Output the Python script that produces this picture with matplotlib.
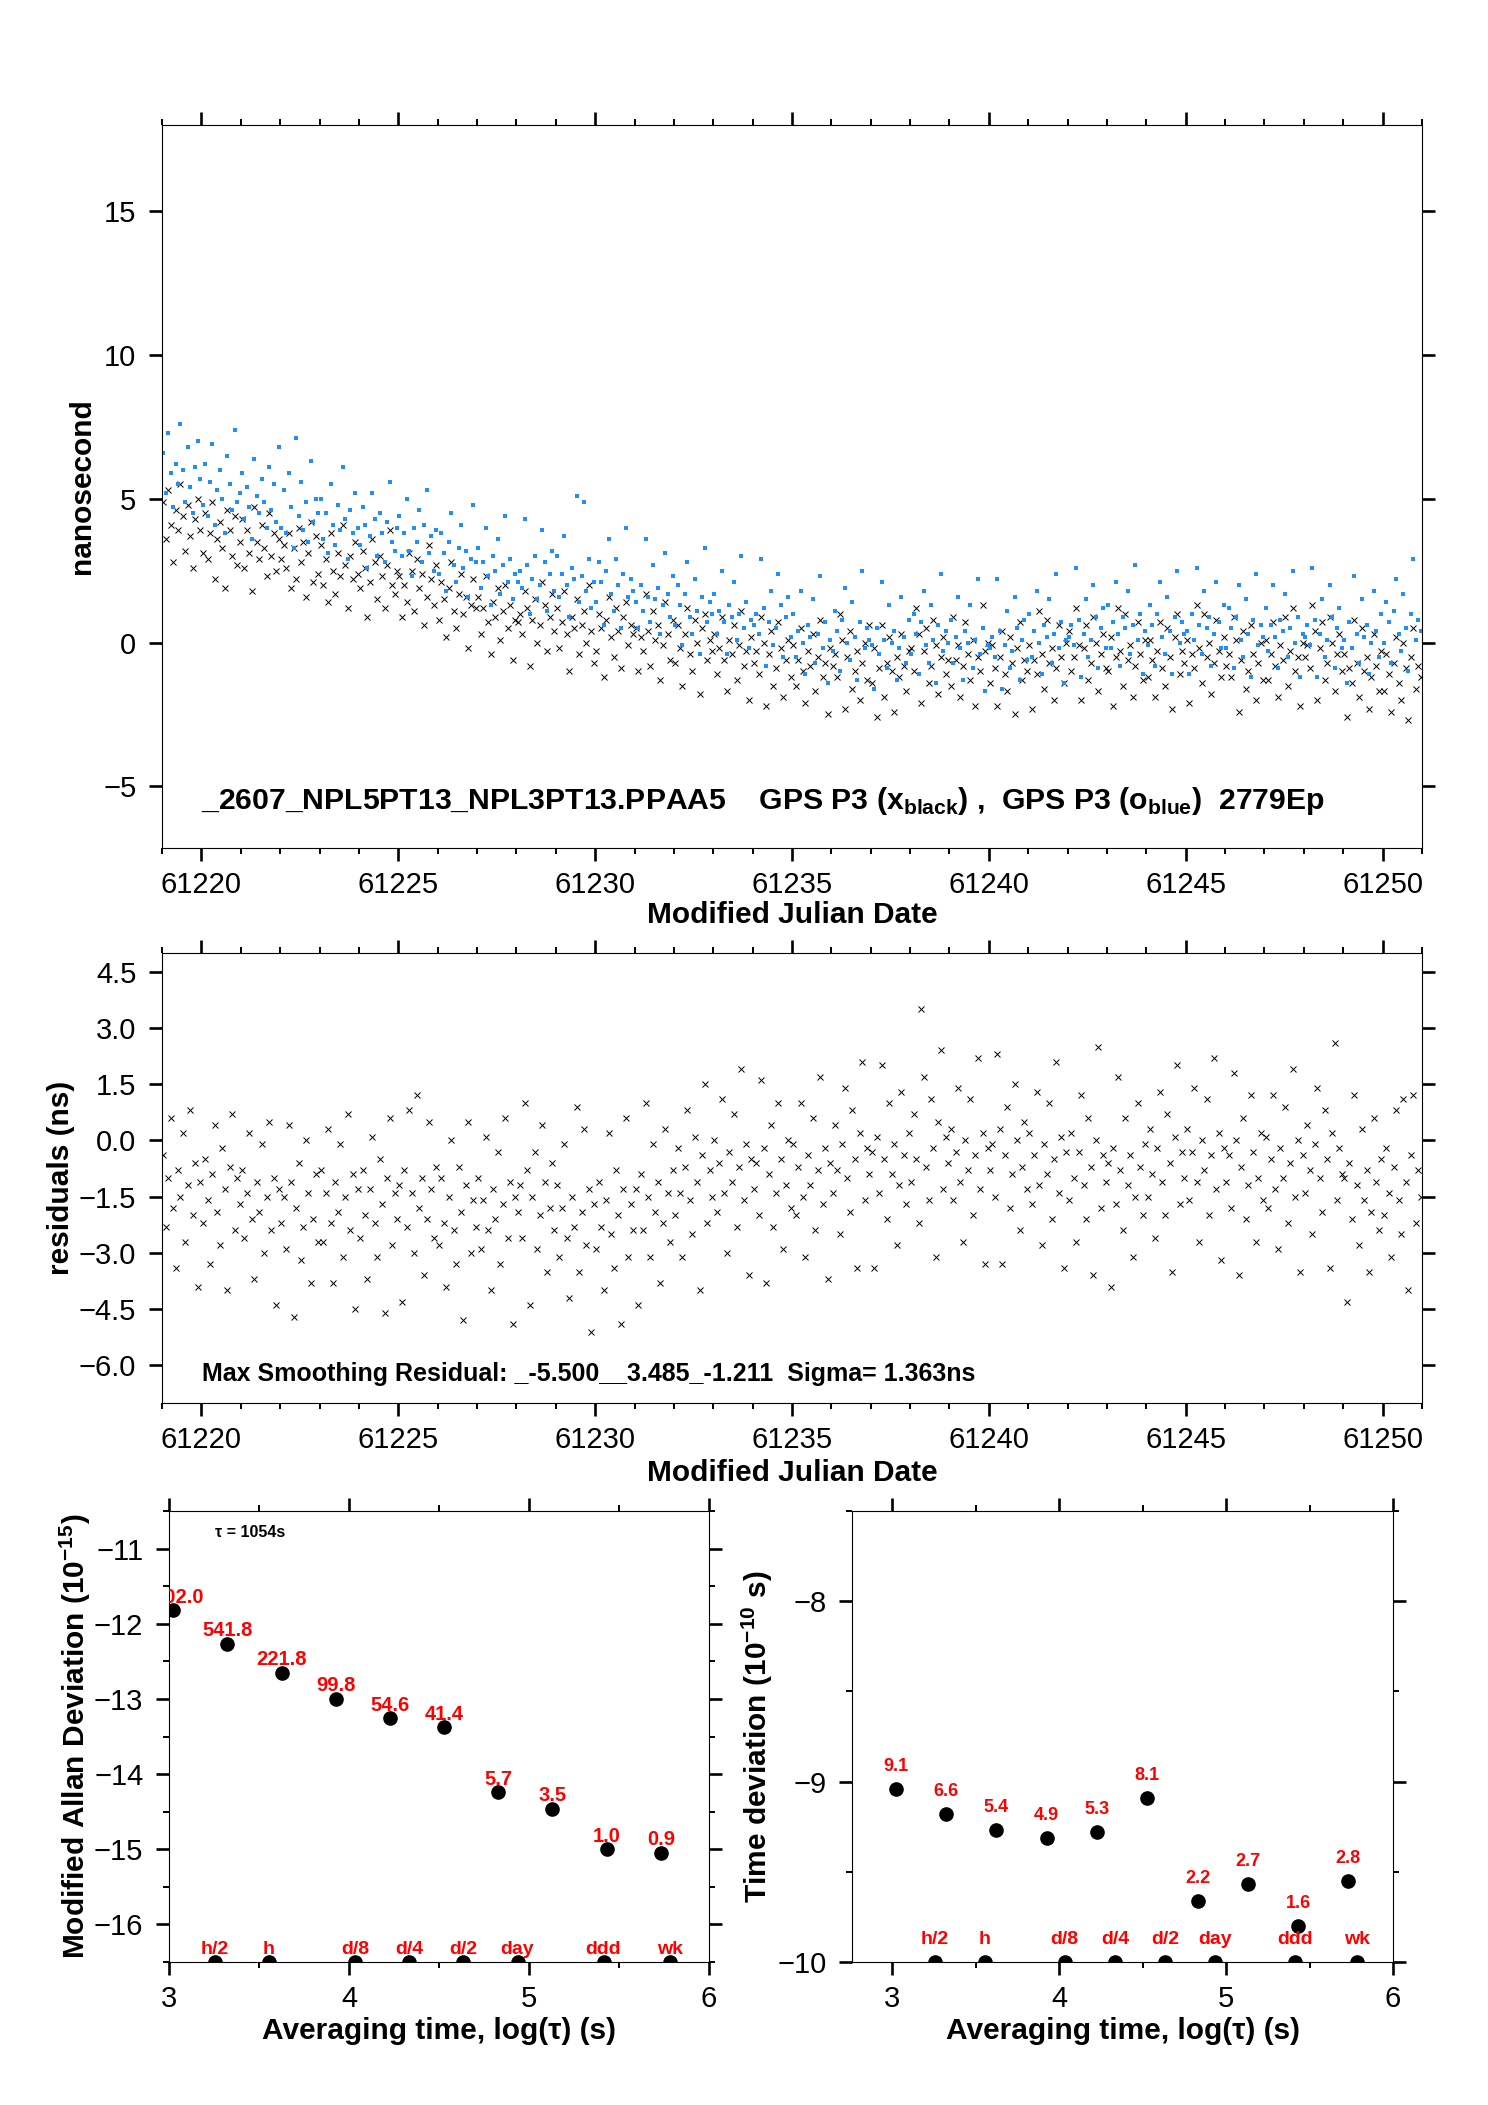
import numpy as np
import matplotlib
matplotlib.use("Agg")
import matplotlib.pyplot as plt
from matplotlib.ticker import MultipleLocator, FuncFormatter

plt.rcParams['font.family'] = ['Liberation Sans', 'DejaVu Sans']
plt.rcParams['axes.unicode_minus'] = True

# ---------------------------------------------------------------
# data: epochs are 16 per day starting at MJD 61219
# ---------------------------------------------------------------
MJD_START = 61219.03
MJD_STEP = 1.0 / 16.0

# GPS P3 (x, black) in ns, one row per day
gps_black = [
    4.9, 3.6, 5.3, 4.1, 2.8, 4.6, 3.9, 5.5, 4.4, 3.2, 4.8, 3.7, 2.6, 4.3, 5.0, 3.9,
    3.1, 4.5, 2.9, 3.8, 4.9, 2.2, 3.6, 4.2, 3.3, 1.9, 4.6, 3.9, 3.0, 4.4, 2.7, 3.5,
    4.3, 2.6, 3.9, 3.1, 1.8, 4.7, 3.5, 2.9, 4.1, 3.3, 2.3, 4.5, 3.0, 3.8, 2.5, 3.6,
    2.9, 3.4, 2.6, 3.8, 1.9, 3.3, 2.2, 4.0, 2.8, 3.5, 1.6, 3.1, 4.2, 2.1, 3.7, 2.4,
    3.4, 2.0, 2.9, 1.4, 3.8, 2.5, 1.7, 3.1, 2.3, 4.1, 2.7, 1.2, 3.0, 2.2, 3.5, 2.4,
    1.9, 3.2, 2.6, 0.9, 2.1, 3.6, 2.8, 1.5, 3.0, 2.3, 1.2, 2.7, 3.9, 2.0, 1.7, 2.5,
    2.3, 0.9, 2.0, 1.4, 3.1, 2.5, 1.1, 2.9, 1.9, 2.4, 0.6, 1.6, 3.4, 2.2, 1.3, 2.7,
    0.8, 2.1, 1.5, 0.2, 1.9, 2.8, 1.1, 0.5, 1.7, 2.4, 1.0, 1.6, -0.2, 1.3, 2.2, 1.2,
    1.6, 0.3, 1.2, 2.3, 0.7, -0.4, 1.4, 0.9, 1.9, 0.1, 1.1, 2.0, 0.5, 1.3, -0.6, 0.8,
    0.7, 1.0, 0.3, 1.8, 1.2, -0.8, 0.8, 1.5, 0.0, 0.6, 2.1, 1.3, -0.3, 0.9, 1.7, 0.4,
    1.2, -0.2, 0.7, 1.8, 0.3, -1.0, 0.9, 0.5, 1.5, -0.4, 0.6, 1.1, 0.0, 2.0, 0.4, -0.7,
    -0.3, 1.0, 0.5, -1.2, 0.8, 1.6, 0.2, -0.5, 1.2, 0.4, -0.9, 0.9, 1.4, -0.1, 0.6, 0.3,
    0.5, -1.0, 0.2, -0.3, 1.7, 0.4, -0.8, 1.1, 0.1, 0.6, -1.3, -0.1, 1.4, 0.3, -0.6, 0.8,
    -0.7, 0.6, -0.2, -1.5, 0.3, 1.2, -0.4, -1.0, 0.8, 0.0, -1.8, 0.5, 1.0, -0.6, 0.1, -0.3,
    0.3, -1.1, -0.2, 0.9, -0.6, -1.7, 0.1, -0.4, 0.6, -1.3, -0.1, 1.1, -0.8, -0.3, -2.0, 0.2,
    -0.7, -0.3, -1.1, 0.9, 0.0, -2.2, -0.4, 0.4, -1.5, -0.9, 0.7, -0.2, -1.9, -0.6, 0.1, -1.2,
    -0.1, -1.5, -0.6, 0.5, -1.0, -2.1, -0.3, -0.8, 0.3, -1.7, -0.5, 0.8, -1.2, -0.7, -2.5, -0.2,
    -0.8, -0.4, -1.2, 1.0, 0.1, -2.3, -0.5, 0.4, -1.6, -1.0, -0.3, -2.0, -0.7, 0.0, -1.3, 0.6,
    -1.4, -0.2, -2.6, -0.9, 0.6, -1.9, -0.7, 0.2, -1.0, -2.4, -0.5, -1.2, 0.3, -0.8, -1.7, -0.3,
    -0.2, -1.0, 1.2, 0.3, -2.1, -0.3, 0.5, -1.4, -0.8, 0.8, -0.1, -1.8, -0.5, 0.2, -1.1, -0.6,
    -1.5, 0.9, -0.6, -0.1, -1.9, -0.8, 0.7, -0.4, -1.3, 0.1, -2.2, -0.5, -1.0, 1.3, -0.3, 0.0,
    -1.4, -0.1, -0.9, -2.2, -0.5, 0.4, -1.1, -1.7, 0.2, -0.7, -2.5, -0.2, 0.7, -1.3, -0.6, -1.0,
    -0.1, -2.3, -0.6, -1.1, 1.1, -0.4, -1.6, 0.8, -0.7, -0.2, -2.0, -0.9, 0.6, -0.5, -1.4, 0.0,
    0.4, -1.0, -0.5, 1.2, -0.1, -2.0, -0.2, 0.6, -1.3, -0.7, 0.9, 0.0, -1.7, -0.4, 0.3, -0.9,
    -1.0, 0.2, -2.2, -0.5, 1.2, -0.3, -1.5, 1.0, -0.6, -0.1, -1.9, -0.8, 0.7, -0.4, -1.3, 0.1,
    -1.2, 0.1, -0.6, -1.9, -0.3, 0.7, -0.9, -1.5, 0.5, -0.5, -2.3, 0.2, 1.0, -1.1, -0.3, -0.7,
    0.1, -2.1, -0.4, -0.9, 1.3, -0.2, -1.4, 1.0, -0.5, 0.0, -1.8, -0.7, 0.8, -0.3, -1.2, 0.2,
    -0.8, -0.4, -1.2, 0.9, 0.1, -2.4, -0.6, 0.4, -1.6, -1.0, 0.6, -0.4, -2.0, -0.7, 0.0, -1.3,
    0.1, -1.3, -0.4, 0.7, -0.8, -1.9, -0.1, -0.6, 0.9, -1.5, -0.3, 1.2, -1.0, -0.5, -2.2, 0.0,
    -0.5, -0.1, -0.9, 1.3, 0.4, -2.0, -0.2, 0.7, -1.3, -0.7, 0.9, 0.0, -1.7, -0.4, 0.3, -1.0,
    -0.4, -2.6, -0.9, -1.4, 0.8, -0.7, -1.9, 0.5, -1.0, -0.5, -2.3, -1.2, 0.3, -0.8, -1.7, -0.3,
    -1.7, -0.4, -1.1, -2.4, -0.7, 0.2, -1.4, -2.0, 0.0, -0.9, -2.7, -0.5, 0.5, -1.6, -0.8, -1.2,
]

# GPS P3 (o, blue) in ns
gps_blue = [
    6.6, 5.2, 7.3, 5.9, 4.7, 6.2, 5.5, 7.6, 6.0, 4.9, 6.8, 5.4, 4.5, 6.1, 7.0, 5.7,
    4.8, 6.2, 4.4, 5.6, 6.9, 4.1, 5.3, 6.0, 5.0, 3.8, 6.5, 5.5, 4.6, 7.4, 4.9, 5.2,
    5.9, 4.3, 5.4, 4.7, 3.6, 6.4, 5.1, 4.5, 5.7, 4.9, 4.0, 6.1, 4.6, 5.5, 4.2, 6.8,
    4.0, 5.3, 3.8, 5.9, 4.7, 3.3, 7.1, 4.4, 5.6, 3.9, 4.9, 3.5, 6.3, 4.2, 5.0, 4.5,
    5.0, 3.6, 4.5, 3.1, 5.5, 4.1, 3.4, 4.8, 3.9, 6.1, 4.3, 2.9, 4.6, 3.8, 5.2, 4.0,
    3.4, 4.7, 4.1, 2.6, 3.7, 5.2, 4.3, 3.0, 4.5, 3.8, 2.8, 4.2, 5.6, 3.5, 3.2, 4.0,
    4.4, 3.0, 3.8, 5.0, 3.2, 2.3, 4.0, 3.5, 4.6, 2.8, 4.1, 5.3, 3.1, 3.7, 2.5, 3.9,
    2.4, 3.8, 3.1, 1.8, 3.5, 4.5, 2.7, 2.1, 3.3, 4.1, 2.6, 3.2, 1.6, 2.9, 4.8, 2.8,
    3.3, 1.9, 2.8, 4.0, 2.3, 1.3, 3.0, 2.5, 3.6, 1.7, 2.7, 4.4, 2.1, 2.9, 1.5, 2.4,
    2.1, 2.5, 1.9, 4.3, 2.7, 1.0, 2.2, 3.0, 1.5, 2.0, 3.9, 2.8, 1.1, 2.4, 3.2, 1.8,
    3.0, 1.6, 2.4, 3.7, 2.0, 0.9, 2.6, 2.2, 5.1, 1.4, 2.3, 4.9, 1.8, 2.9, 1.2, 2.1,
    1.4, 2.8, 2.1, 0.6, 2.5, 3.6, 1.7, 1.1, 2.9, 2.0, 0.5, 2.4, 4.0, 1.6, 2.2, 1.8,
    1.4, 0.5, 2.0, 1.1, 3.6, 1.6, 0.7, 2.7, 1.5, 1.9, 0.3, 1.3, 3.1, 1.7, 0.9, 2.3,
    0.6, 2.0, 1.3, -0.1, 1.7, 2.8, 0.9, 0.3, 2.2, 1.1, -0.4, 1.6, 3.3, 0.7, 1.4, 1.0,
    1.7, 0.3, 1.1, 2.5, 0.7, -0.4, 1.3, 0.9, 2.1, 0.1, 1.0, 3.0, 0.5, 1.4, -0.2, 0.8,
    0.6, 1.0, 0.3, 2.9, 1.2, -0.8, 0.7, 1.8, -0.1, 0.5, 2.4, 1.3, -0.5, 0.9, 1.6, 0.2,
    1.0, -0.5, 0.4, 1.8, 0.0, -1.1, 0.6, 0.2, 1.5, -0.7, 0.3, 2.3, -0.2, 0.7, -1.4, 0.1,
    -0.3, 1.1, 0.4, -1.0, 0.8, 1.9, 0.0, -0.6, 1.4, 0.2, -1.3, 0.7, 2.5, -0.2, 0.5, 0.1,
    -0.1, -1.6, 0.5, -0.4, 2.1, 0.1, -0.9, 1.3, 0.0, 0.4, -1.3, -0.2, 1.6, 0.2, -0.7, 0.8,
    -0.4, 1.0, 0.3, -1.1, 0.7, 1.8, -0.1, -0.7, 1.3, 0.1, -1.4, 0.6, 2.4, -0.3, 0.4, 0.0,
    0.8, -0.7, 0.2, 1.6, -0.2, -1.3, 0.4, 0.0, 1.3, -0.9, 0.1, 2.2, -0.4, 0.5, -1.7, -0.1,
    -0.2, 0.2, -0.5, 2.2, 0.4, -1.6, -0.1, 1.1, -0.9, -0.3, 1.6, 0.5, -1.3, 0.1, 0.8, -0.6,
    1.0, -0.5, 0.4, 1.8, 0.0, -1.1, 0.6, 0.2, 1.5, -0.7, 0.3, 2.4, -0.2, 0.7, -1.4, 0.1,
    0.2, 0.6, -0.1, 2.6, 0.8, -1.2, 0.3, 1.5, -0.5, 0.1, 2.0, 0.9, -0.9, 0.5, 1.2, -0.2,
    1.3, -0.2, 0.7, 2.1, 0.3, -0.8, 0.9, 0.5, 1.8, -0.4, 0.6, 2.7, 0.1, 1.0, -1.1, 0.4,
    -0.1, 1.3, 0.6, -0.8, 1.0, 2.1, 0.2, -0.4, 1.6, 0.4, -1.1, 0.9, 2.5, 0.0, 0.7, 0.3,
    0.4, -1.1, 1.0, 0.1, 2.6, 0.6, -0.4, 1.8, 0.5, 0.9, -0.8, 0.3, 2.1, 0.7, -0.2, 1.3,
    -0.2, 1.2, 0.5, -0.9, 0.9, 2.0, 0.1, -0.5, 1.5, 0.3, -1.2, 0.8, 2.4, -0.1, 0.6, 0.2,
    1.2, -0.3, 0.6, 2.0, 0.2, -0.9, 0.8, 0.4, 1.7, -0.5, 0.5, 2.5, 0.0, 0.9, -1.2, 0.3,
    0.2, 0.6, -0.1, 2.6, 0.8, -1.2, 0.3, 1.5, -0.5, 0.1, 2.0, 0.9, -0.9, 0.5, 1.2, -0.2,
    0.1, -1.4, 0.7, -0.2, 2.3, 0.3, -0.7, 1.5, 0.2, 0.6, -1.1, 0.0, 1.8, 0.4, -0.5, 1.0,
    0.0, 1.4, 0.7, -0.7, 1.1, 2.2, 0.3, -0.3, 1.7, 0.5, -1.0, 1.0, 2.9, 0.1, 0.8, 0.4,
]

# residuals (ns)
resid = [
    -0.4, -2.3, -1.0, 0.6, -1.8, -3.4, -0.8, -1.5, 0.2, -2.7, -1.2, 0.8, -2.0, -0.6, -3.9, -1.1,
    -2.2, -0.5, -1.6, -3.3, -0.9, 0.4, -1.9, -2.8, -0.2, -1.3, -4.0, -0.7, 0.7, -2.4, -1.0, -1.7,
    -0.8, -2.6, -1.4, 0.2, -2.1, -3.7, -1.1, -1.9, -0.1, -3.0, -1.5, 0.5, -2.4, -1.0, -4.4, -1.3,
    -2.2, -1.5, -2.9, 0.4, -1.1, -4.7, -1.8, -0.6, -3.2, -2.3, 0.0, -1.4, -3.8, -2.1, -0.9, -2.7,
    -0.8, -2.7, -1.4, 0.3, -2.2, -3.8, -1.1, -1.9, -0.1, -3.1, -1.5, 0.7, -2.4, -0.9, -4.5, -1.3,
    -2.6, -0.8, -2.0, -3.7, -1.3, 0.1, -2.2, -3.1, -0.5, -1.7, -4.6, -1.0, 0.6, -2.8, -1.4, -2.1,
    -1.2, -4.3, -0.8, -2.3, 0.8, -1.4, -3.0, 1.2, -1.8, -1.0, -3.6, -2.1, 0.5, -1.3, -2.6, -0.7,
    -2.8, -1.0, -2.2, -3.9, -1.5, 0.0, -2.4, -3.3, -0.7, -1.9, -4.8, -1.2, 0.5, -3.0, -1.6, -2.3,
    -1.0, -2.9, -1.6, 0.1, -2.4, -4.0, -1.3, -2.1, -0.3, -3.3, -1.7, 0.6, -2.6, -1.1, -4.9, -1.5,
    -1.9, -1.2, -2.6, 1.0, -0.8, -4.4, -1.5, -0.3, -2.9, -2.0, 0.4, -1.1, -3.5, -1.8, -0.6, -2.4,
    -1.2, -3.1, -1.8, -0.1, -2.6, -4.2, -1.5, -2.3, 0.9, -3.5, -1.9, 0.3, -2.8, -1.3, -5.1, -1.7,
    -2.9, -1.1, -2.3, -4.0, -1.6, 0.2, -2.5, -3.4, -0.8, -2.0, -4.9, -1.3, 0.6, -3.1, -1.7, -2.4,
    -1.3, -4.4, -0.9, -2.4, 1.0, -1.5, -3.1, -0.1, -1.9, -1.1, -3.8, -2.2, 0.3, -1.4, -2.7, -0.8,
    -2.0, -0.2, -1.4, -3.1, -0.7, 0.8, -1.6, -2.5, 0.1, -1.1, -4.0, -0.4, 1.5, -2.2, -0.8, -1.5,
    0.0, -1.9, -0.6, 1.1, -1.4, -3.0, -0.3, -1.1, 0.7, -2.3, -0.7, 1.9, -1.6, -0.1, -3.6, -0.5,
    -1.3, -0.6, -2.0, 1.6, -0.2, -3.8, -0.9, 0.4, -2.3, -1.4, 1.0, -0.5, -2.9, -1.2, 0.0, -1.8,
    -0.1, -2.0, -0.7, 1.0, -1.5, -3.1, -0.4, -1.2, 0.6, -2.4, -0.8, 1.7, -1.7, -0.2, -3.7, -0.6,
    -1.4, 0.4, -0.8, -2.5, -0.1, 1.4, -1.0, -1.9, 0.8, -0.5, -3.4, 0.2, 2.1, -1.6, -0.2, -0.9,
    -0.3, -3.4, 0.1, -1.4, 2.0, -0.5, -2.1, 1.0, -0.9, -0.1, -2.8, -1.2, 1.3, -0.4, -1.7, 0.2,
    -1.1, 0.7, -0.5, -2.2, 3.5, 1.7, -0.7, -1.6, 1.1, -0.2, -3.1, 0.5, 2.4, -1.3, 0.1, -0.6,
    0.3, -1.6, -0.3, 1.4, -1.1, -2.7, 0.0, -0.8, 1.1, -2.0, -0.4, 2.2, -1.3, 0.2, -3.3, -0.2,
    -0.8, -0.1, -1.5, 2.3, 0.3, -3.3, -0.4, 0.9, -1.8, -0.9, 1.5, 0.0, -2.4, -0.7, 0.5, -1.3,
    0.2, -1.7, -0.4, 1.3, -1.2, -2.8, -0.1, -0.9, 1.0, -2.1, -0.5, 2.1, -1.4, 0.1, -3.4, -0.3,
    -1.6, 0.2, -1.0, -2.7, -0.3, 1.2, -1.2, -2.1, 0.6, -0.7, -3.6, 0.0, 2.5, -1.8, -0.4, -1.1,
    -0.6, -3.9, -0.2, -1.7, 1.7, -0.8, -2.4, 0.6, -1.2, -0.4, -3.1, -1.5, 1.0, -0.7, -2.0, -0.1,
    -1.5, 0.3, -0.9, -2.6, -0.2, 1.3, -1.1, -2.0, 0.7, -0.6, -3.5, 0.1, 2.0, -1.7, -0.3, -1.0,
    0.3, -1.6, -0.3, 1.4, -1.1, -2.7, 0.0, -0.8, 1.1, -2.0, -0.4, 2.2, -1.3, 0.2, -3.2, -0.2,
    -1.1, -0.4, -1.8, 1.8, 0.0, -3.6, -0.7, 0.6, -2.1, -1.2, 1.2, -0.3, -2.7, -1.0, 0.2, -1.6,
    0.1, -1.8, -0.5, 1.2, -1.3, -2.9, -0.2, -1.0, 0.9, -2.2, -0.6, 1.9, -1.5, 0.0, -3.5, -0.4,
    -1.4, 0.4, -0.8, -2.5, -0.1, 1.4, -1.0, -1.9, 0.8, -0.5, -3.4, 0.2, 2.6, -1.6, -0.2, -0.9,
    -1.0, -4.3, -0.6, -2.1, 1.2, -1.2, -2.8, 0.3, -1.6, -0.8, -3.5, -1.9, 0.6, -1.1, -2.4, -0.5,
    -2.0, -0.2, -1.4, -3.1, -0.7, 0.8, -1.6, -2.5, 1.1, -1.1, -4.0, -0.4, 1.2, -2.2, -0.8, -1.5,
]

# frequency / time stability, tau = 1054 s * 2^n
log_tau = [3.023, 3.324, 3.625, 3.926, 4.227, 4.528, 4.829, 5.130, 5.431, 5.732]
mdev_log = [-11.82, -12.27, -12.65, -13.00, -13.26, -13.38, -14.24, -14.46, -15.00, -15.05]
mdev_text = ["1502.0", "541.8", "221.8", "99.8", "54.6", "41.4", "5.7", "3.5", "1.0", "0.9"]
tdev_log = [-9.04, -9.18, -9.27, -9.31, -9.28, -9.09, -9.66, -9.57, -9.80, -9.55]
tdev_text = ["9.1", "6.6", "5.4", "4.9", "5.3", "8.1", "2.2", "2.7", "1.6", "2.8"]

# reference averaging times
ref_names = ["h/2", "h", "d/8", "d/4", "d/2", "day", "ddd", "wk"]
ref_log_tau = [3.255, 3.556, 4.033, 4.334, 4.635, 4.936, 5.414, 5.782]

TITLE = (r"_2607_NPL5PT13_NPL3PT13.PPAA5    GPS P3 (x$_{\mathregular{black}}$) ,  "
         r"GPS P3 (o$_{\mathregular{blue}}$)  2779Ep")
RESID_TEXT = "Max Smoothing Residual: _-5.500__3.485_-1.211  Sigma= 1.363ns"

mjd = MJD_START + MJD_STEP * np.arange(len(gps_black))

RED = "#ff0000"
BLUE = "#1e8fff"
TICK_FS = 21
LABEL_FS = 21.5


def minus_fmt(fmt):
    return FuncFormatter(lambda v, pos: (fmt % v).replace("-", "\u2212"))


def style_axis(ax, xmajor, xminor, ymajor, yminor):
    ax.xaxis.set_major_locator(MultipleLocator(xmajor))
    ax.yaxis.set_major_locator(MultipleLocator(ymajor))
    if xminor:
        ax.xaxis.set_minor_locator(MultipleLocator(xminor))
    if yminor:
        ax.yaxis.set_minor_locator(MultipleLocator(yminor))
    ax.tick_params(which="both", direction="out", top=True, right=True,
                   labelsize=TICK_FS)
    ax.tick_params(which="major", length=9.5, width=1.9)
    ax.tick_params(which="minor", length=4.5, width=1.4)
    ax.tick_params(axis="y", pad=9)
    ax.tick_params(axis="x", pad=7)
    for sp in ax.spines.values():
        sp.set_linewidth(0.8)


fig = plt.figure(figsize=(14.88, 21.05), dpi=100)

# ---------------- top: raw clock differences ----------------
ax1 = fig.add_axes([0.1089, 0.5971, 0.8467, 0.3435])
ax1.plot(mjd, gps_black, ls="none", marker="x", ms=4.2, mew=0.7, color="black")
ax1.plot(mjd, gps_blue, ls="none", marker="s", ms=2.7, mew=0, color=BLUE)
ax1.set_xlim(61219, 61251)
ax1.set_ylim(-7.15, 18)
style_axis(ax1, 5, 1, 5, None)
ax1.xaxis.set_major_formatter(minus_fmt("%d"))
ax1.yaxis.set_major_formatter(minus_fmt("%d"))
ax1.set_ylabel("nanosecond", fontsize=LABEL_FS, fontweight="bold")
ax1.set_xlabel("Modified Julian Date", fontsize=LABEL_FS, fontweight="bold")
ax1.yaxis.set_label_coords(-0.0525, 0.5)
ax1.xaxis.set_label_coords(0.5, -0.0725)
ax1.text(0.031, 0.054, TITLE, transform=ax1.transAxes, fontsize=21.7,
         fontweight="bold", va="baseline")

# ---------------- middle: residuals ----------------
ax2 = fig.add_axes([0.1089, 0.3335, 0.8467, 0.2138])
ax2.plot(mjd, resid, ls="none", marker="x", ms=4.2, mew=0.7, color="black")
ax2.set_xlim(61219, 61251)
ax2.set_ylim(-7.0, 5.0)
style_axis(ax2, 5, 1, 1.5, None)
ax2.xaxis.set_major_formatter(minus_fmt("%d"))
ax2.yaxis.set_major_formatter(minus_fmt("%.1f"))
ax2.set_ylabel("residuals (ns)", fontsize=LABEL_FS, fontweight="bold")
ax2.set_xlabel("Modified Julian Date", fontsize=LABEL_FS, fontweight="bold")
ax2.yaxis.set_label_coords(-0.0687, 0.5)
ax2.xaxis.set_label_coords(0.5, -0.125)
ax2.text(0.032, 0.049, RESID_TEXT, transform=ax2.transAxes, fontsize=18,
         fontweight="bold", va="baseline")

# ---------------- bottom left: modified Allan deviation ----------------
ax3 = fig.add_axes([0.1136, 0.0679, 0.3629, 0.2143])
ax3.plot(log_tau, mdev_log, ls="none", marker="o", ms=9.5, color="black")
for x, y, s in zip(log_tau, mdev_log, mdev_text):
    ax3.annotate(s, (x, y), xytext=(0, 5.5), textcoords="offset points",
                 ha="center", va="baseline", color=RED, fontsize=14.5,
                 fontweight="bold", clip_on=True)
ax3.set_xlim(3, 6)
ax3.set_ylim(-16.5, -10.5)
ax3.plot(ref_log_tau, [-16.5] * len(ref_log_tau), ls="none", marker="o",
         ms=9.5, color="black")
for x, s in zip(ref_log_tau, ref_names):
    ax3.annotate(s, (x, -16.5), xytext=(0, 5.5), textcoords="offset points",
                 ha="center", va="baseline", color=RED, fontsize=14,
                 fontweight="bold")
style_axis(ax3, 1, 0.5, 1, 0.5)
ax3.xaxis.set_major_formatter(minus_fmt("%d"))
ax3.yaxis.set_major_formatter(minus_fmt("%d"))
ax3.set_ylabel(r"Modified Allan Deviation (10$^{\mathregular{-15}}$)",
               fontsize=LABEL_FS, fontweight="bold")
ax3.set_xlabel("Averaging time, log(τ) (s)", fontsize=LABEL_FS, fontweight="bold")
ax3.yaxis.set_label_coords(-0.1405, 0.5)
ax3.xaxis.set_label_coords(0.5, -0.122)
ax3.text(0.085, 0.953, "τ = 1054s", transform=ax3.transAxes, fontsize=11.5,
         fontweight="bold", va="center")

# ---------------- bottom right: time deviation ----------------
ax4 = fig.add_axes([0.5726, 0.0679, 0.3636, 0.2143])
ax4.plot(log_tau, tdev_log, ls="none", marker="o", ms=9.5, color="black")
for x, y, s in zip(log_tau, tdev_log, tdev_text):
    ax4.annotate(s, (x, y), xytext=(0, 13), textcoords="offset points",
                 ha="center", va="baseline", color=RED, fontsize=13,
                 fontweight="bold")
ax4.set_xlim(2.76, 6)
ax4.set_ylim(-10, -7.5)
ax4.plot(ref_log_tau, [-10] * len(ref_log_tau), ls="none", marker="o",
         ms=9.5, color="black")
for x, s in zip(ref_log_tau, ref_names):
    ax4.annotate(s, (x, -10), xytext=(0, 13), textcoords="offset points",
                 ha="center", va="baseline", color=RED, fontsize=14,
                 fontweight="bold")
style_axis(ax4, 1, 0.5, 1, 0.5)
ax4.xaxis.set_major_formatter(minus_fmt("%d"))
ax4.yaxis.set_major_formatter(minus_fmt("%d"))
ax4.set_ylabel(r"Time deviation (10$^{\mathregular{-10}}$ s)",
               fontsize=LABEL_FS, fontweight="bold")
ax4.set_xlabel("Averaging time, log(τ) (s)", fontsize=LABEL_FS, fontweight="bold")
ax4.yaxis.set_label_coords(-0.142, 0.5)
ax4.xaxis.set_label_coords(0.5, -0.122)

fig.savefig("out.png", dpi=100)
